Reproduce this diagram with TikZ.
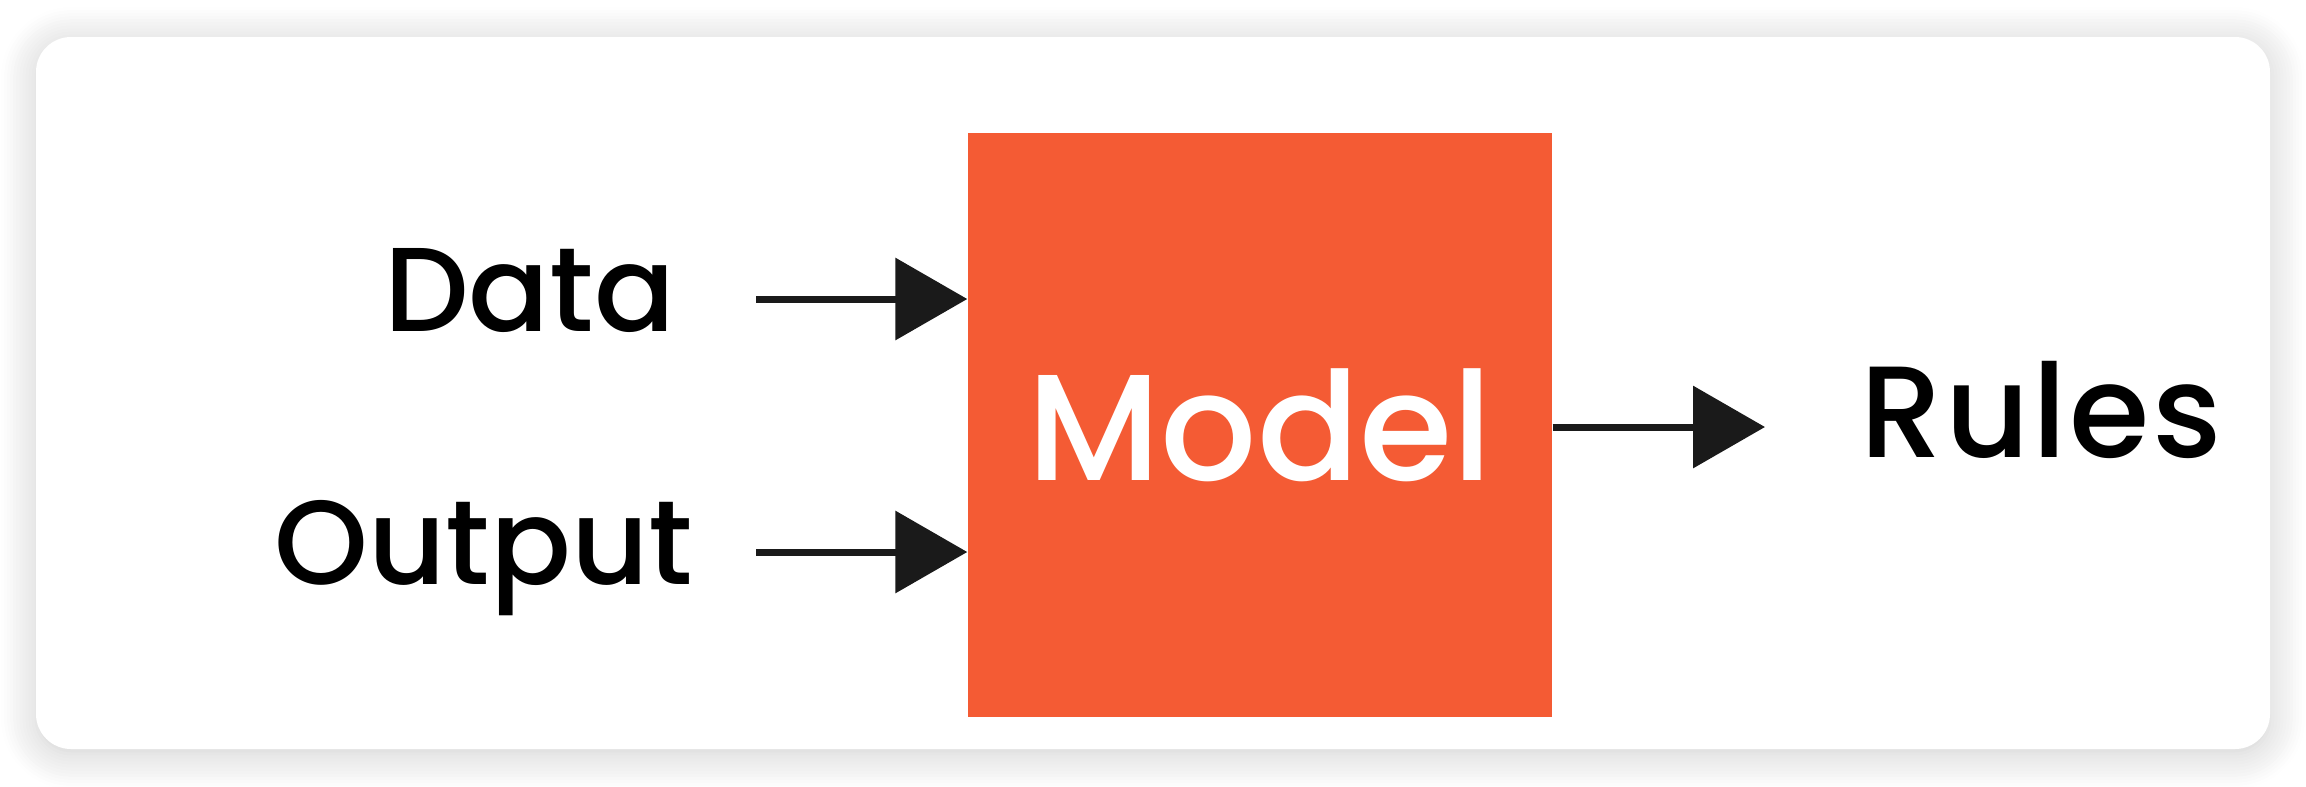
\documentclass[tikz,border=0pt]{standalone}
\usepackage{fontspec}
\setmainfont{Poppins}
\newfontfamily\modelfont{Poppins Medium}
\newfontfamily\labelfont{Poppins Medium}
\newfontfamily\rulesfont{Poppins Medium}[LetterSpace=2]
\usepackage{tikz}
\usetikzlibrary{arrows.meta,shadows.blur}
\definecolor{modelorange}{HTML}{F45B34}
\definecolor{arrowblack}{HTML}{1A1A1A}

\begin{document}
\begin{tikzpicture}
[x=0.1mm,y=-0.1mm,
card/.style={fill=white,rounded corners=3.5mm,
blur shadow={shadow xshift=0mm,shadow yshift=-0.5mm,shadow blur radius=3.5mm,shadow blur steps=12,shadow opacity=20}},
block/.style={fill=modelorange,minimum width=58.4mm,minimum height=58.4mm,inner sep=0pt,
text=white,font=\modelfont\fontsize{43}{50}\selectfont},
tag/.style={inner sep=0pt,text=black,font=\labelfont\fontsize{34}{41}\selectfont},
flow/.style={draw=arrowblack,line width=0.7mm,-{Triangle[length=7.2mm,width=8.1mm]}}]
\useasboundingbox (0,0) rectangle (2306,786);
\path[card] (36,37) rectangle (2270,749);
\node[block] (model) at (1260,425) {Model};
\node[tag,anchor=base east] (data) at (676,331) {Data};
\node[tag,anchor=base east] (output) at (694,584) {Output};
\node[tag,anchor=base west,font=\rulesfont\fontsize{37}{44}\selectfont] (rules) at (1860,457) {Rules};
\coordinate (dataIn) at (756,299);
\coordinate (outputIn) at (756,552);
\coordinate (rulesIn) at (1765,427);
\draw[flow] (dataIn) -- (dataIn -| model.west);
\draw[flow] (outputIn) -- (outputIn -| model.west);
\draw[flow] (rulesIn -| model.east) -- (rulesIn);
\end{tikzpicture}
\end{document}
